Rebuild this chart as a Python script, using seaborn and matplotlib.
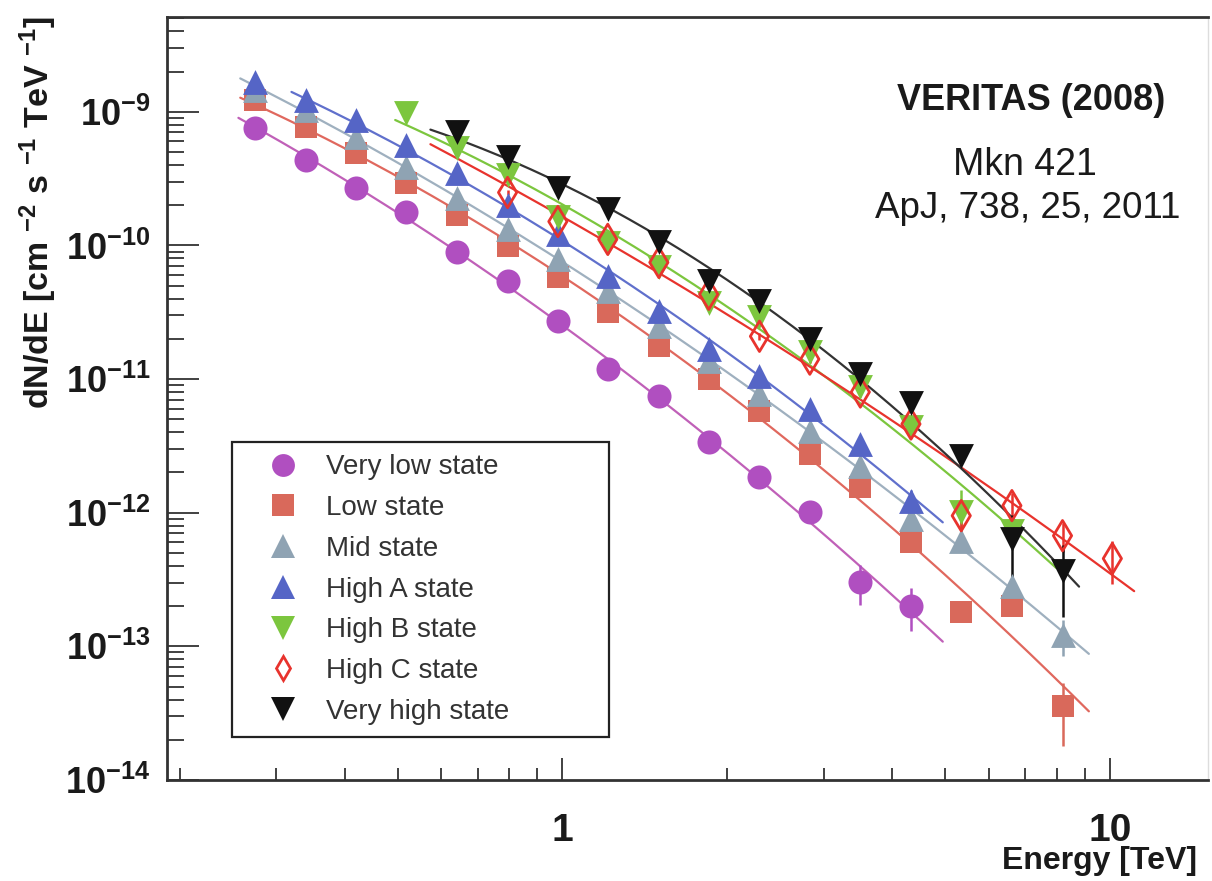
import numpy as np
import matplotlib
matplotlib.use("Agg")
import matplotlib.pyplot as plt
import seaborn as sns
from matplotlib.lines import Line2D
from matplotlib.ticker import FixedLocator, FixedFormatter, FuncFormatter, NullFormatter

# ---------------- data ----------------
energy = [0.275, 0.340, 0.420, 0.519, 0.642, 0.794, 0.981, 1.21, 1.50, 1.85,
          2.29, 2.83, 3.50, 4.33, 5.35, 6.62, 8.19, 10.1]

very_low = [7.60e-10, 4.38e-10, 2.71e-10, 1.79e-10, 8.87e-11, 5.38e-11, 2.71e-11,
            1.19e-11, 7.47e-12, 3.39e-12, 1.86e-12, 1.02e-12, 3.05e-13, 2.02e-13]
very_low_err = [0.03, 0.03, 0.03, 0.03, 0.03, 0.04, 0.04, 0.05, 0.06, 0.07, 0.08, 0.10, 0.33, 0.35]

low = [1.23e-9, 7.73e-10, 4.94e-10, 2.95e-10, 1.70e-10, 9.83e-11, 5.77e-11, 3.16e-11,
       1.76e-11, 1.00e-11, 5.77e-12, 2.75e-12, 1.56e-12, 6.08e-13, 1.82e-13, 1.99e-13, 3.57e-14]
low_err = [0.03, 0.03, 0.03, 0.03, 0.03, 0.03, 0.04, 0.04, 0.05, 0.05, 0.06, 0.07, 0.08, 0.10, 0.12, 0.12, 0.5]

mid = [1.46e-9, 1.04e-9, 6.51e-10, 3.89e-10, 2.28e-10, 1.32e-10, 7.87e-11, 4.54e-11,
       2.49e-11, 1.36e-11, 7.73e-12, 4.09e-12, 2.24e-12, 9.02e-13, 6.18e-13, 2.81e-13, 1.21e-13]
mid_err = [0.03, 0.03, 0.03, 0.03, 0.03, 0.03, 0.04, 0.04, 0.05, 0.05, 0.06, 0.07, 0.08, 0.10, 0.12, 0.2, 0.3]

high_a = [1.68e-9, 1.23e-9, 8.71e-10, 5.67e-10, 3.51e-10, 2.02e-10, 1.21e-10,
          5.87e-11, 3.22e-11, 1.67e-11, 1.05e-11, 5.97e-12, 3.27e-12, 1.23e-12]
high_a_err = [0.03, 0.03, 0.03, 0.03, 0.03, 0.03, 0.04, 0.04, 0.05, 0.05, 0.06, 0.07, 0.08, 0.2]

high_b = [9.83e-10, 5.39e-10, 3.39e-10, 1.62e-10, 1.05e-10, 6.85e-11, 3.69e-11,
          2.90e-11, 1.59e-11, 8.71e-12, 4.38e-12, 1.02e-12, 7.34e-13]
high_b_err = [0.03, 0.03, 0.03, 0.04, 0.04, 0.05, 0.05, 0.06, 0.07, 0.08, 0.1, 0.45, 0.15]

high_c = [2.49e-10, 1.51e-10, 1.11e-10, 7.46e-11, 4.31e-11, 2.09e-11, 1.41e-11,
          8.00e-12, 4.61e-12, 9.50e-13, 1.13e-12, 6.73e-13, 4.54e-13]
high_c_err = [0.04, 0.04, 0.04, 0.05, 0.05, 0.06, 0.07, 0.08, 0.1, 0.3, 0.25, 0.25, 0.35]

very_high = [7.09e-10, 4.62e-10, 2.71e-10, 1.86e-10, 1.07e-10, 5.38e-11, 3.82e-11,
             1.99e-11, 1.09e-11, 6.62e-12, 2.66e-12, 6.40e-13, 3.69e-13]
very_high_err = [0.03, 0.03, 0.03, 0.04, 0.04, 0.05, 0.05, 0.06, 0.07, 0.08, 0.1, 0.5, 0.55]

labels = ["Very low state", "Low state", "Mid state", "High A state",
          "High B state", "High C state", "Very high state"]
first_bin = [0, 0, 0, 0, 3, 5, 4]
fit_start = [0.256, 0.258, 0.258, 0.32, 0.495, 0.574, 0.574]
fit_end = [4.95, 9.15, 9.15, 4.95, 7.97, 11.07, 8.78]

x_major = [1, 10]
x_major_labels = ["1", "10"]
x_minor = [0.2, 0.3, 0.4, 0.5, 0.6, 0.7, 0.8, 0.9, 2, 3, 4, 5, 6, 7, 8, 9]
y_exponents = [-14, -13, -12, -11, -10, -9]

values = [very_low, low, mid, high_a, high_b, high_c, very_high]
errors = [very_low_err, low_err, mid_err, high_a_err, high_b_err, high_c_err, very_high_err]
colors = ["#b04fc0", "#d9695b", "#8fa3b3", "#5565c6", "#7cc63e", "#e8332d", "#111111"]
line_colors = ["#c060b8", "#e0685e", "#9fb0bf", "#6070cc", "#7cc63e", "#e8332d", "#333333"]
markers = ["o", "s", "^", "^", "v", "d", "v"]
hollow = [False, False, False, False, False, True, False]
sizes = [300, 260, 320, 320, 320, 240, 320]

# ---------------- style ----------------
sns.set_theme(style="ticks")
plt.rcParams["font.family"] = ["Liberation Sans", "DejaVu Sans"]
plt.rcParams["mathtext.fontset"] = "custom"
plt.rcParams["mathtext.rm"] = "Liberation Sans"
plt.rcParams["mathtext.it"] = "Liberation Sans:italic"
plt.rcParams["mathtext.bf"] = "Liberation Sans:bold"

W, H = 1212, 881
fig = plt.figure(figsize=(W / 100, H / 100), dpi=100)
fig.patch.set_facecolor("white")
ax = fig.add_axes([167 / W, 1 - 780 / H, (1208 - 167) / W, (780 - 17) / H])
ax.set_facecolor("white")
ax.set_xscale("log")
ax.set_yscale("log")

for i in range(len(labels)):
    k0 = first_bin[i]
    F = np.array(values[i])
    E = np.array(energy[k0:k0 + len(F)])
    coef = np.polyfit(np.log10(E), np.log10(F), 2)
    xf = np.geomspace(fit_start[i], fit_end[i], 200)
    yf = 10 ** np.polyval(coef, np.log10(xf))
    sns.lineplot(x=xf, y=yf, ax=ax, color=line_colors[i], lw=1.6, sort=False,
                 estimator=None, legend=False, zorder=2 + i * 0.1)
    ax.errorbar(E, F, yerr=np.array(errors[i]) * F, fmt="none", ecolor=colors[i],
                elinewidth=1.8, capsize=0, zorder=2 + i * 0.1)
    if hollow[i]:
        sns.scatterplot(x=E, y=F, ax=ax, marker=markers[i], s=sizes[i],
                        facecolor="none", edgecolor=colors[i], linewidth=2.0,
                        legend=False, zorder=3 + i * 0.1)
    else:
        sns.scatterplot(x=E, y=F, ax=ax, marker=markers[i], s=sizes[i],
                        color=colors[i], edgecolor=colors[i], linewidth=0,
                        legend=False, zorder=3 + i * 0.1)

ax.set_xlim(0.1896, 15.1)
ax.set_ylim(1e-14, 5.12e-9)
ax.set_xlabel("")
ax.set_ylabel("")

# ticks
ax.xaxis.set_major_locator(FixedLocator(x_major))
ax.xaxis.set_major_formatter(FixedFormatter(x_major_labels))
ax.xaxis.set_minor_locator(FixedLocator(x_minor))
ax.xaxis.set_minor_formatter(NullFormatter())
ax.yaxis.set_major_locator(FixedLocator([10.0 ** e for e in y_exponents]))
ax.yaxis.set_major_formatter(FuncFormatter(lambda v, p: r"$\mathbf{10^{%d}}$" % round(np.log10(v))))
y_minor = [m * 10.0 ** e for e in y_exponents for m in range(2, 10) if m * 10.0 ** e < 5.12e-9]
ax.yaxis.set_minor_locator(FixedLocator(y_minor))
ax.yaxis.set_minor_formatter(NullFormatter())

ax.tick_params(axis="both", which="both", direction="in", color="#333333", width=1.3,
               top=False, right=False)
ax.tick_params(axis="y", which="major", length=23, pad=12, labelsize=26, labelcolor="#1a1a1a")
ax.tick_params(axis="y", which="minor", length=12)
ax.tick_params(axis="x", which="major", length=16, pad=24, labelsize=28, labelcolor="#1a1a1a")
ax.tick_params(axis="x", which="minor", length=9)
for lab in ax.get_xticklabels():
    lab.set_fontweight("bold")

for side in ["left", "bottom", "top"]:
    ax.spines[side].set_color("#333333")
    ax.spines[side].set_linewidth(2.0)
ax.spines["right"].set_color("#dddddd")
ax.spines["right"].set_linewidth(1.0)

# axis titles
fig.text(1197 / W, 1 - 861 / H, "Energy [TeV]", ha="right", va="center",
         fontsize=23, fontweight="bold", color="#1a1a1a")
fig.text(38 / W, 1 - 16 / H, r"dN/dE [cm $^{\mathbf{-2}}$ s $^{\mathbf{-1}}$ TeV $^{\mathbf{-1}}$]",
         rotation=90, ha="center", va="top", fontsize=24.5, fontweight="bold", color="#1a1a1a")

# annotations
fig.text(1031 / W, 1 - 100 / H, "VERITAS (2008)", ha="center", va="center",
         fontsize=26, fontweight="bold", color="#1a1a1a")
fig.text(1025 / W, 1 - 165 / H, "Mkn 421", ha="center", va="center",
         fontsize=27, color="#1a1a1a")
fig.text(1028 / W, 1 - 209 / H, "ApJ, 738, 25, 2011", ha="center", va="center",
         fontsize=26.5, color="#1a1a1a")

# legend
handles = []
for i in range(len(labels)):
    ms = np.sqrt(sizes[i])
    if hollow[i]:
        h = Line2D([], [], linestyle="none", marker=markers[i], markersize=ms * 0.8,
                   markerfacecolor="none", markeredgecolor=colors[i], markeredgewidth=2)
    else:
        h = Line2D([], [], linestyle="none", marker=markers[i], markersize=ms * 0.95,
                   color=colors[i], markeredgewidth=0)
    handles.append(h)
leg = fig.legend(handles, labels, loc="upper left",
                 bbox_to_anchor=(232 / W, 1 - 737 / H, (609 - 232) / W, (737 - 442) / H),
                 mode="expand", frameon=True, fancybox=False, fontsize=20, labelspacing=0.53,
                 handletextpad=0.15, borderpad=0.45, borderaxespad=0, handlelength=2.8)
leg.get_frame().set_edgecolor("#222222")
leg.get_frame().set_linewidth(1.6)
leg.get_frame().set_facecolor("white")
leg.get_frame().set_alpha(1)
for t in leg.get_texts():
    t.set_color("#333333")

fig.savefig("out.png", dpi=100, facecolor="white")
